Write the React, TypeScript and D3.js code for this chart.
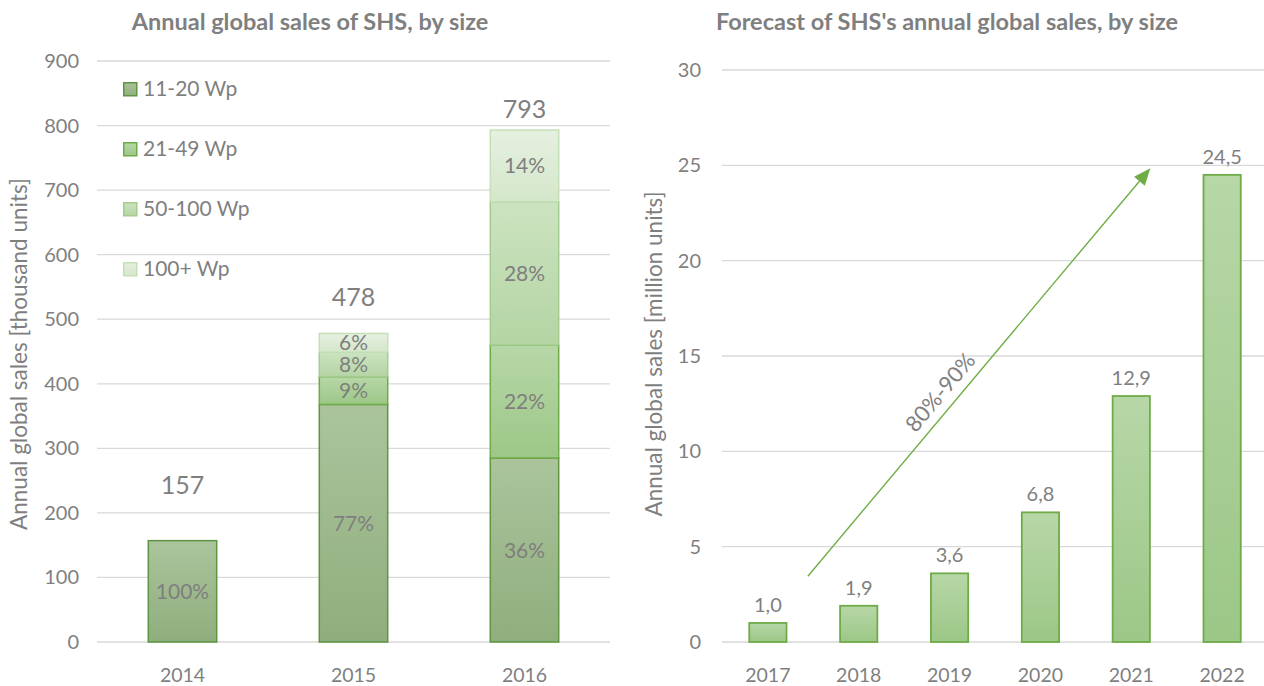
import React from "react";
import * as d3 from "d3";

// ---------- Data ----------
const leftYears = ["2014", "2015", "2016"];
const sizeSeries = ["11-20 Wp", "21-49 Wp", "50-100 Wp", "100+ Wp"];
// thousand units per size segment
const seg1120 = [157, 368, 285];
const seg2149 = [0, 43, 175];
const seg50100 = [0, 38, 222];
const seg100p = [0, 29, 111];
const segPctLabels = [
  ["100%", "", "", ""],
  ["77%", "9%", "8%", "6%"],
  ["36%", "22%", "28%", "14%"],
];
const leftTotals = [157, 478, 793];
const leftTotalLabelValue = [243, 534, 826]; // where the total label sits (thousand units)
const leftTicks = [0, 100, 200, 300, 400, 500, 600, 700, 800, 900];

const rightYears = ["2017", "2018", "2019", "2020", "2021", "2022"];
const rightValues = [1.0, 1.9, 3.6, 6.8, 12.9, 24.5];
const rightLabels = ["1,0", "1,9", "3,6", "6,8", "12,9", "24,5"];
const rightTicks = [0, 5, 10, 15, 20, 25, 30];
// arrow from (category, fraction of step, value) to (category, fraction, value)
const arrowStart = { cat: "2017", frac: 0.44, value: 3.45 };
const arrowEnd = { cat: "2021", frac: 0.21, value: 24.85 };
const arrowLabel = "80%-90%";

const FONT = "Lato, 'Open Sans', sans-serif";
const TXT = "#7f7f7f";
const GRID = "#d9d9d9";

const segStyles = [
  { top: "#abc49c", bot: "#8fae7d", stroke: "#5f9440" },
  { top: "#b7d7a7", bot: "#9cc787", stroke: "#6fab48" },
  { top: "#cce3c0", bot: "#b4d5a4", stroke: "#a3cc8e" },
  { top: "#e6f0e0", bot: "#d4e7ca", stroke: "#c5dfb8" },
];

export default function App() {
  const W = 1264, H = 686;

  // Left chart
  const lx = d3.scaleBand<string>().domain(leftYears).range([97, 610]).paddingInner(0.6).paddingOuter(0.3);
  const ly = d3.scaleLinear().domain([0, 900]).range([642, 61]);
  const segArrays = [seg1120, seg2149, seg50100, seg100p];
  const rows = leftYears.map((y, i) => {
    const o: any = { year: y };
    sizeSeries.forEach((s, k) => (o[s] = segArrays[k][i]));
    return o;
  });
  const stacked = d3.stack<any>().keys(sizeSeries)(rows);

  // Right chart
  const rx = d3.scaleBand<string>().domain(rightYears).range([722, 1268]).paddingInner(0.59).paddingOuter(0.3);
  const ry = d3.scaleLinear().domain([0, 30]).range([642, 70]);

  const ax1 = rx(arrowStart.cat)! + rx.bandwidth() / 2 + arrowStart.frac * rx.step();
  const ay1 = ry(arrowStart.value);
  const ax2 = rx(arrowEnd.cat)! + rx.bandwidth() / 2 + arrowEnd.frac * rx.step();
  const ay2 = ry(arrowEnd.value);
  const ang = Math.atan2(ay2 - ay1, ax2 - ax1);
  const angDeg = (ang * 180) / Math.PI;
  const headLen = 17, headW = 7;
  const hx = ax2 - headLen * Math.cos(ang), hy = ay2 - headLen * Math.sin(ang);
  const px = -Math.sin(ang) * headW, py = Math.cos(ang) * headW;
  const midX = (ax1 + ax2) / 2, midY = (ay1 + ay2) / 2;

  return (
    <svg width={W} height={H} style={{ position: "absolute", left: 0, top: 0, background: "#fff" }} fontFamily={FONT}>
      <defs>
        {segStyles.map((s, k) => (
          <linearGradient key={k} id={`g${k}`} x1="0" y1="0" x2="0" y2="1">
            <stop offset="0" stopColor={s.top} />
            <stop offset="1" stopColor={s.bot} />
          </linearGradient>
        ))}
      </defs>

      {/* ---------- Left chart ---------- */}
      <text x={310} y={30} textAnchor="middle" fontSize={23.5} fontWeight="bold" fill={TXT}>
        Annual global sales of SHS, by size
      </text>
      {leftTicks.map((t) => (
        <g key={t}>
          <line x1={97} x2={610} y1={ly(t)} y2={ly(t)} stroke={GRID} strokeWidth={1.3} />
          <text x={79} y={ly(t) + 7} textAnchor="end" fontSize={20} fill={TXT}>{t}</text>
        </g>
      ))}
      <text transform={`translate(27,${354}) rotate(-90)`} textAnchor="middle" fontSize={22.5} fill={TXT}>
        Annual global sales [thousand units]
      </text>
      {leftYears.map((y) => (
        <text key={y} x={lx(y)! + lx.bandwidth() / 2} y={682} textAnchor="middle" fontSize={19.5} fill={TXT}>{y}</text>
      ))}
      {stacked.map((layer, k) => (
        <g key={k}>
          {layer.map((d, i) => {
            const h = ly(d[0]) - ly(d[1]);
            if (h <= 0) return null;
            return (
              <rect key={i} x={lx(leftYears[i])!} y={ly(d[1])} width={lx.bandwidth()} height={h}
                fill={`url(#g${k})`} stroke={segStyles[k].stroke} strokeWidth={1.5} />
            );
          })}
        </g>
      ))}
      {stacked.map((layer, k) => (
        <g key={"l" + k}>
          {layer.map((d, i) => {
            const lbl = segPctLabels[i][k];
            if (!lbl) return null;
            return (
              <text key={i} x={lx(leftYears[i])! + lx.bandwidth() / 2} y={ly((d[0] + d[1]) / 2) + 7.5}
                textAnchor="middle" fontSize={21} fill={TXT}>{lbl}</text>
            );
          })}
        </g>
      ))}
      {leftTotals.map((t, i) => (
        <text key={i} x={lx(leftYears[i])! + lx.bandwidth() / 2} y={ly(leftTotalLabelValue[i]) + 9}
          textAnchor="middle" fontSize={25} fill={TXT}>{t}</text>
      ))}
      {/* legend */}
      {sizeSeries.map((s, k) => (
        <g key={s} transform={`translate(123,${82 + k * 60})`}>
          <rect x={0.75} y={0.75} width={13} height={13} fill={`url(#g${k})`} stroke={segStyles[k].stroke} strokeWidth={1.5} />
          <text x={20} y={14} fontSize={21} fill={TXT}>{s}</text>
        </g>
      ))}

      {/* ---------- Right chart ---------- */}
      <text x={947} y={30} textAnchor="middle" fontSize={23.5} fontWeight="bold" fill={TXT}>
        Forecast of SHS's annual global sales, by size
      </text>
      {rightTicks.map((t) => (
        <g key={t}>
          <line x1={722} x2={1264} y1={ry(t)} y2={ry(t)} stroke={GRID} strokeWidth={1.3} />
          <text x={701} y={ry(t) + 7} textAnchor="end" fontSize={20} fill={TXT}>{t}</text>
        </g>
      ))}
      <text transform={`translate(662,${354}) rotate(-90)`} textAnchor="middle" fontSize={22.5} fill={TXT}>
        Annual global sales [million units]
      </text>
      {rightYears.map((y) => (
        <text key={y} x={rx(y)! + rx.bandwidth() / 2} y={682} textAnchor="middle" fontSize={19.5} fill={TXT}>{y}</text>
      ))}
      {rightValues.map((v, i) => (
        <g key={i}>
          <rect x={rx(rightYears[i])!} y={ry(v)} width={rx.bandwidth()} height={ry(0) - ry(v)}
            fill="url(#g1)" stroke={segStyles[1].stroke} strokeWidth={1.8} />
          <text x={rx(rightYears[i])! + rx.bandwidth() / 2} y={ry(v) - 11} textAnchor="middle" fontSize={20} fill={TXT}>
            {rightLabels[i]}
          </text>
        </g>
      ))}
      {/* arrow */}
      <line x1={ax1} y1={ay1} x2={hx} y2={hy} stroke="#70ad47" strokeWidth={1.4} />
      <polygon points={`${ax2},${ay2} ${hx + px},${hy + py} ${hx - px},${hy - py}`} fill="#70ad47" />
      <text transform={`translate(${midX - 33},${midY + 25}) rotate(${angDeg})`} textAnchor="middle" fontSize={22} fill={TXT}>
        {arrowLabel}
      </text>
    </svg>
  );
}
